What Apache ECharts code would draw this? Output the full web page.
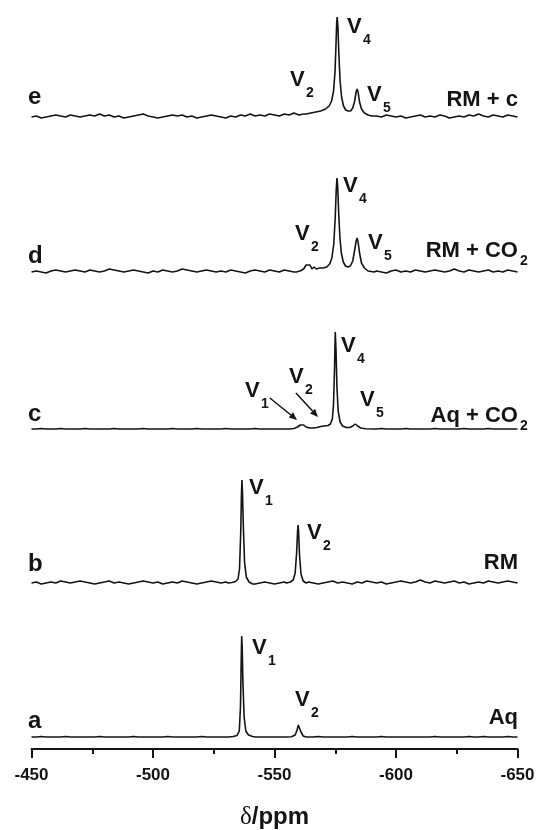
<!DOCTYPE html>
<html><head><meta charset="utf-8">
<script src="https://cdn.jsdelivr.net/npm/echarts@6/dist/echarts.min.js"></script>
<style>html,body{margin:0;padding:0;background:#fff}#c{width:538px;height:830px}</style>
</head><body><div id="c"></div>
<script>
// baseline samples start at -450 ppm, every 2 ppm; null = covered by a peak group
const ppmStart = -450, ppmStep = -2;
const xTicks = [-450, -500, -550, -600, -650];

const noiseE = [0,1,-1,0,1,2,1,0,2,1, 0,1,2,1,3,1,2,0,1,-1, 0,1,2,3,1,0,-1,0,1,2, 1,2,0,1,-1,0,1,2,1,0, -1,1,0,2,1,3,1,2,1,3, 2,1,3,2,4,2,3,
  null,null,null,null,null,null,null,null,null,null,null,null,null,null,
  1,0,2,1,0,1,-1,0,1,2, 0,1,0,2,1,-1,0,1,0,2, 1,3,1,0,2,1,0,2,1,0];
const peaksE = [[[-563,3],[-565,4],[-567,5],[-569,6],[-571,8],[-572.5,11],[-573.5,16],[-574.3,26],[-574.9,45],[-575.3,72],[-575.6,95],[-575.8,100],[-576.1,90],[-576.5,62],[-577,36],[-577.6,20],[-578.4,11],[-579.3,7],[-580.3,6],[-581.3,6],[-582.2,9],[-583,16],[-583.6,25],[-584,28],[-584.4,25],[-585,15],[-585.8,8],[-587,4],[-588.5,2],[-590,1],[-591,1]]];

const noiseD = [0,1,0,-1,1,2,1,0,1,2, 1,0,2,1,0,1,3,2,1,0, 1,2,1,0,-1,1,0,2,1,0, 1,3,2,1,0,1,2,1,0,1, 0,2,1,0,-1,1,2,1,0,2, 1,0,2,1,0,
  null,null,null,null,null,null,null,null,null,null,null,null,null,null,null,null,
  1,0,-1,1,2,0,1,0,2,1, 0,1,2,1,0,1,3,1,0,2, 1,0,1,2,0,1,0,2,1,0];
const peaksD = [[[-559,0],[-560.5,1],[-562,3],[-563,7],[-563.8,9],[-564.6,7],[-565.4,3],[-566.3,5],[-567.2,3],[-568.5,4],[-570,4],[-571.5,5],[-572.7,8],[-573.6,14],[-574.4,28],[-575,55],[-575.4,82],[-575.7,94],[-576,86],[-576.4,60],[-576.9,35],[-577.5,19],[-578.3,10],[-579.2,6],[-580.2,5],[-581.2,6],[-582.2,11],[-583,22],[-583.6,31],[-584,34],[-584.4,30],[-585,19],[-585.8,9],[-587,4],[-588.5,1],[-591,0]]];

const noiseC = [0,0,0.5,0,0,0,0.5,0,0,0, 0,0.5,0,0,0,0,0,0.5,0,0, 0,0,0,0.5,0,0,0,0,0,0.5, 0,0,0,0,0.5,0,0,0,0,0, 0.5,0,0,0,0,0,0.5,0,0,0, 0,0,
  null,null,null,null,null,null,null,null,null,null,null,null,null,null,null,null,null,null,null,
  0,0.5,0,0,0,0,0.5,0,0,0, 0,0,0.5,0,0,0,0,0,0.5,0, 0,0,0,0.5,0,0,0,0,0,0];
const peaksC = [[[-553,0],[-556,0],[-558,0.5],[-559.5,2],[-560.6,4],[-561.3,5],[-562,4],[-563,2],[-564.5,1],[-566,1],[-567.5,1.5],[-569,2.5],[-570.5,3],[-572,3.5],[-573,5],[-573.8,10],[-574.3,25],[-574.7,60],[-575,97],[-575.3,80],[-575.7,42],[-576.2,18],[-577,7],[-578,3],[-579.5,1.5],[-581,1.5],[-582.2,3],[-583.2,5],[-584.2,3],[-585.5,1],[-587.5,0.3],[-591,0]]];

const noiseB = [0,1,-1,0,1,0,2,1,0,1, 2,1,0,-1,0,1,2,0,1,0, -1,0,1,2,1,0,1,-1,0,1, 0,2,1,0,-1,0,1,2,1,0, 1,
  null,null,null,null,null,
  -1,0,1,0,-1,0,1,
  null,null,null,null,
  1,0,-1,0,1,2,0,1,0,-1, 1,0,2,1,0,1,-1,0,1,2, 1,0,1,3,1,0,2,1,0,1, 2,0,1,-1,0,1,0,2,1,0, 1,2,1,0];
const peaksB = [
  [[-531,0],[-532.5,0.5],[-534,1.5],[-535,4],[-535.6,14],[-536.1,50],[-536.4,88],[-536.6,103],[-536.8,92],[-537.2,55],[-537.7,20],[-538.4,6],[-539.5,1],[-541,-1]],
  [[-555,0],[-556.5,1],[-557.7,3],[-558.5,10],[-559.1,30],[-559.5,52],[-559.7,58],[-559.9,52],[-560.3,28],[-560.9,9],[-561.8,2],[-563,0]]];

const noiseA = [0,0,0.5,0,0,0,0,0.5,0,0, 0,0,0,0,0.5,0,0,0,0,0, 0,0.5,0,0,0,0,0,0,0.5,0, 0,0,0,0,0,0.5,0,0,0,0, 0,
  null,null,null,null,null,
  0,0,0,0,0,0,0,
  null,null,null,null,
  0,0,0.5,0,0,0,0,0,0,0.5, 0,0,0,0,0,0.5,0,0,0,0, 0,0,0,0,0,0,0.5,0,0,0, 0,0,0,0.5,0,0,0.5,0,0,0, 0,0.5,0,0];
const peaksA = [
  [[-531,0],[-533,0.5],[-534.6,1.5],[-535.5,6],[-536,30],[-536.3,75],[-536.5,101],[-536.7,90],[-537,55],[-537.5,20],[-538.2,6],[-539.3,2],[-541,0.5]],
  [[-555,0],[-557,0.3],[-558.5,2],[-559.3,7],[-559.8,12],[-560,13],[-560.3,11],[-560.9,5],[-561.8,1],[-563,0]]];

const spectra = [
  {key:'a', noise:noiseA, peaks:peaksA},
  {key:'b', noise:noiseB, peaks:peaksB},
  {key:'c', noise:noiseC, peaks:peaksC},
  {key:'d', noise:noiseD, peaks:peaksD},
  {key:'e', noise:noiseE, peaks:peaksE}
];
// vertical stacking offsets (layout)
const offsets = {a:12, b:166, c:320, d:477, e:632};

// annotations: [spectrum, ppm, height above baseline, text, subscript, kind]
const annotations = [
  ['e',-448.6,20,'e','','letter'], ['e',-556.4,37,'V','2','v'], ['e',-579.8,90,'V','4','v'], ['e',-588.1,22,'V','5','v'], ['e',-650.2,17,'RM + c','','right'],
  ['d',-448.6,16,'d','','letter'], ['d',-558.4,38,'V','2','v'], ['d',-578.2,86,'V','4','v'], ['d',-588.5,29,'V','5','v'], ['d',-650.2,21,'RM + CO','2','right'],
  ['c',-448.6,15,'c','','letter'], ['c',-537.9,38,'V','1','v'], ['c',-556,52,'V','2','v'], ['c',-577.4,83,'V','4','v'], ['c',-585.2,29,'V','5','v'], ['c',-650.2,13,'Aq + CO','2','right'],
  ['b',-448.6,19,'b','','letter'], ['b',-539.5,95,'V','1','v'], ['b',-563.4,50,'V','2','v'], ['b',-650.2,20,'RM','','right'],
  ['a',-448.6,16,'a','','letter'], ['a',-540.7,89,'V','1','v'], ['a',-558.4,37,'V','2','v'], ['a',-650.2,19,'Aq','','right']
];
// arrows in c: [spectrum, fromPpm, fromH, toPpm, toH]
const arrows = [['c',-548.1,31,-559.3,9], ['c',-558.8,36,-567.9,12]];

function build(noise, groups, off){
  const pts = [];
  noise.forEach((v,i)=>{ if(v!==null) pts.push([ppmStart+ppmStep*i, v]); });
  groups.forEach(g=>g.forEach(p=>pts.push([p[0], p[1]])));
  pts.sort((p,q)=>q[0]-p[0]);
  return pts.map(p=>[p[0], p[1]+off]);
}

const INK = '#141414';
const SANS = '"Liberation Sans", Arial, Helvetica, sans-serif';
const chart = echarts.init(document.getElementById('c'), null, {renderer:'canvas'});
chart.setOption({
  animation:false,
  backgroundColor:'#ffffff',
  grid:{left:31.5, right:20.5, top:10, bottom:81, containLabel:false, outerBoundsMode:'none'},
  xAxis:{
    type:'value', min:-650, max:-450, interval:50, inverse:true,
    axisLine:{lineStyle:{color:INK, width:2}},
    axisTick:{inside:false, length:9, lineStyle:{color:INK, width:2}},
    minorTick:{show:true, splitNumber:2, length:5, lineStyle:{color:INK, width:2}},
    splitLine:{show:false}, minorSplitLine:{show:false},
    axisLabel:{color:INK, fontFamily:SANS, fontWeight:'bold', fontSize:17, margin:18,
      customValues: xTicks, formatter:v=>String(v)},
    name:'{d|δ}{p|/ppm}', nameLocation:'middle', nameGap:56,
    nameTextStyle:{rich:{
      d:{fontFamily:'"Liberation Serif", "DejaVu Serif", serif', fontSize:25, color:INK},
      p:{fontFamily:SANS, fontWeight:'bold', fontSize:24, color:INK}}}
  },
  yAxis:{type:'value', min:0, max:739, show:false},
  series: spectra.map(s=>({
    type:'line', name:s.key, data:build(s.noise, s.peaks, offsets[s.key]),
    showSymbol:false, symbol:'none', smooth:false,
    lineStyle:{color:INK, width:1.6}, silent:true
  }))
});

function px(key, ppm, h){ return chart.convertToPixel({gridIndex:0}, [ppm, offsets[key]+h]); }
const big = 'bold 22px ' + SANS, small = 'bold 14px ' + SANS, letter = 'bold 24px ' + SANS;
const g = [];
function txt(text, x, y, font, align){
  g.push({type:'text', x:x, y:y, silent:true,
    style:{text:text, font:font, fill:INK, align:align, verticalAlign:'middle', textAlign:align, textVerticalAlign:'middle'}});
}
annotations.forEach(a=>{
  const p = px(a[0], a[1], a[2]);
  if (a[5]==='letter') txt(a[3], p[0], p[1], letter, 'left');
  else if (a[5]==='v') { txt(a[3], p[0], p[1], big, 'left'); txt(a[4], p[0]+16, p[1]+13, small, 'left'); }
  else { txt(a[3], p[0], p[1], big, 'right'); if (a[4]) txt(a[4], p[0]+2, p[1]+10, small, 'left'); }
});
arrows.forEach(a=>{
  const p0 = px(a[0], a[1], a[2]), p1 = px(a[0], a[3], a[4]);
  const dx = p1[0]-p0[0], dy = p1[1]-p0[1], L = Math.hypot(dx,dy), ux = dx/L, uy = dy/L;
  const hl = 8, hw = 3.4;
  const bx = p1[0]-ux*hl, by = p1[1]-uy*hl;
  g.push({type:'line', silent:true, shape:{x1:p0[0], y1:p0[1], x2:bx, y2:by}, style:{stroke:INK, lineWidth:1.5}});
  g.push({type:'polygon', silent:true, shape:{points:[[p1[0],p1[1]],[bx-uy*hw, by+ux*hw],[bx+uy*hw, by-ux*hw]]}, style:{fill:INK}});
});
chart.setOption({graphic:{elements:g}});
</script>
</body></html>
